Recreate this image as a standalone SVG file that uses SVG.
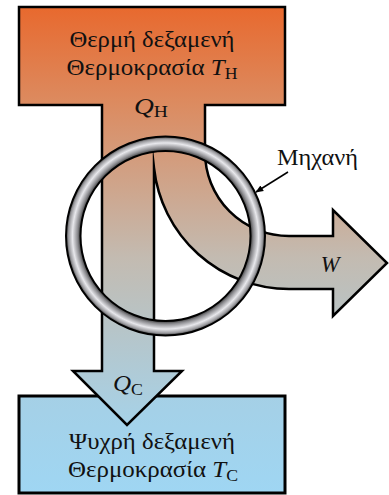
<svg xmlns="http://www.w3.org/2000/svg" width="389" height="495" viewBox="0 0 389 495">
<defs>
<linearGradient id="flow" gradientUnits="userSpaceOnUse" x1="0" y1="7" x2="0" y2="425">
<stop offset="0" stop-color="#e8692e"/>
<stop offset="0.23" stop-color="#dc8b60"/>
<stop offset="0.6" stop-color="#c3bbb1"/>
<stop offset="1" stop-color="#a6d2e8"/>
</linearGradient>
<linearGradient id="cold" gradientUnits="userSpaceOnUse" x1="0" y1="396" x2="0" y2="493">
<stop offset="0" stop-color="#a5d0e6"/>
<stop offset="1" stop-color="#9fd6f3"/>
</linearGradient>
<radialGradient id="ring" gradientUnits="userSpaceOnUse" cx="165.5" cy="236" r="99.5">
<stop offset="0.854" stop-color="#3a3a3a"/>
<stop offset="0.885" stop-color="#8c8c90"/>
<stop offset="0.935" stop-color="#e8e8ec"/>
<stop offset="0.975" stop-color="#9a9a9e"/>
<stop offset="1" stop-color="#3a3a3a"/>
</radialGradient>
<marker id="ah" viewBox="0 0 10 10" refX="9" refY="5" markerWidth="8" markerHeight="8" markerUnits="userSpaceOnUse" orient="auto">
<path d="M0,1 L10,5 L0,9 Z" fill="#000"/>
</marker>
</defs>
<style>
.t{font-family:"Liberation Serif","DejaVu Serif",serif;font-size:22.5px;fill:#111;}
.i{font-style:italic;}
.s{font-size:16px;}
</style>
<g id="cold-reservoir">
<rect x="19" y="396" width="266" height="97" fill="url(#cold)" stroke="#000" stroke-width="3"/>
</g>
<g id="connectors">
<path id="flow-shape" d="M19,7 H285 V105 H205 V152 A84,84 0 0 0 289,236 H333 V210 L387,263 L333,316 V289 H289 A136,136 0 0 1 154,168 V371 H182 L127,425 L73,371 H102 V105 H19 Z" fill="url(#flow)" stroke="#000" stroke-width="2.5" stroke-linejoin="miter" stroke-miterlimit="20"/>
<line x1="288" y1="172" x2="256" y2="192" stroke="#000" stroke-width="1.5" marker-end="url(#ah)"/>
</g>
<g id="hot-reservoir">
<text class="t" x="152" y="47" text-anchor="middle" textLength="165" lengthAdjust="spacingAndGlyphs">Θερμή δεξαμενή</text>
<text class="t" x="152" y="75" text-anchor="middle" textLength="171" lengthAdjust="spacingAndGlyphs">Θερμοκρασία <tspan class="i">T</tspan><tspan class="s" dy="4">H</tspan></text>
</g>
<g id="engine">
<circle cx="165.5" cy="236" r="92.25" fill="none" stroke="url(#ring)" stroke-width="14.5"/>
<circle cx="165.5" cy="236" r="99.5" fill="none" stroke="#000" stroke-width="2"/>
<circle cx="165.5" cy="236" r="85" fill="none" stroke="#000" stroke-width="2"/>
<text class="t" x="317.5" y="165" text-anchor="middle" textLength="81" lengthAdjust="spacingAndGlyphs">Μηχανή</text>
</g>
<g id="labels">
<text class="t" x="151" y="114" text-anchor="middle" textLength="34" lengthAdjust="spacingAndGlyphs"><tspan class="i">Q</tspan><tspan class="s" dy="3">H</tspan></text>
<text class="t" x="330" y="272" text-anchor="middle"><tspan class="i">W</tspan></text>
<text class="t" x="128" y="391" text-anchor="middle" textLength="30" lengthAdjust="spacingAndGlyphs"><tspan class="i">Q</tspan><tspan class="s" dy="4">C</tspan></text>
</g>
<g id="cold-text">
<text class="t" x="152" y="449" text-anchor="middle" textLength="166" lengthAdjust="spacingAndGlyphs">Ψυχρή δεξαμενή</text>
<text class="t" x="153" y="477" text-anchor="middle" textLength="170" lengthAdjust="spacingAndGlyphs">Θερμοκρασία <tspan class="i">T</tspan><tspan class="s" dy="4">C</tspan></text>
</g>
</svg>
